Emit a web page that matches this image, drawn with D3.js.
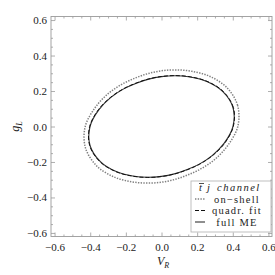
<!DOCTYPE html>
<html><head><meta charset="utf-8">
<script src="https://cdn.jsdelivr.net/npm/d3@7"></script>
<style>
html,body{margin:0;padding:0;background:#fff;}
svg text{font-family:"Liberation Serif","DejaVu Serif",serif;}
</style>
</head><body>
<svg id="chart" width="275" height="275"></svg>
<script>
// ---- data ----
const xMajorTicks = [-0.6, -0.4, -0.2, 0.0, 0.2, 0.4, 0.6];
const yMajorTicks = [-0.6, -0.4, -0.2, 0.0, 0.2, 0.4, 0.6];
const legendTitle = "channel";
const legendLabels = ["on\u2212shell", "quadr. fit", "full ME"];

// contour points [V_R, g_L]
const onShell = [
  [0.428,0.000],[0.427,0.119],[0.365,0.221],[0.270,0.283],[0.171,0.311],[0.082,0.319],
  [0.000,0.314],[-0.076,0.298],[-0.150,0.272],[-0.226,0.236],[-0.302,0.183],[-0.374,0.104],
  [-0.428,0.000],[-0.427,-0.119],[-0.365,-0.221],[-0.270,-0.283],[-0.171,-0.311],[-0.082,-0.319],
  [0.000,-0.314],[0.076,-0.298],[0.150,-0.272],[0.226,-0.236],[0.302,-0.183],[0.374,-0.104]
];
const quadrFit = [
  [0.403,0.000],[0.403,0.108],[0.345,0.199],[0.255,0.255],[0.162,0.280],[0.077,0.287],
  [0.000,0.282],[-0.072,0.268],[-0.142,0.245],[-0.213,0.213],[-0.285,0.165],[-0.354,0.095],
  [-0.403,0.000],[-0.403,-0.108],[-0.345,-0.199],[-0.255,-0.255],[-0.162,-0.280],[-0.077,-0.287],
  [0.000,-0.282],[0.072,-0.268],[0.142,-0.245],[0.213,-0.213],[0.285,-0.165],[0.354,-0.095]
];
const fullME = [
  [0.401,0.000],[0.401,0.107],[0.343,0.198],[0.254,0.254],[0.161,0.279],[0.077,0.286],
  [0.000,0.281],[-0.072,0.267],[-0.141,0.244],[-0.212,0.212],[-0.284,0.164],[-0.352,0.094],
  [-0.401,0.000],[-0.401,-0.107],[-0.343,-0.198],[-0.254,-0.254],[-0.161,-0.279],[-0.077,-0.286],
  [0.000,-0.281],[0.072,-0.267],[0.141,-0.244],[0.212,-0.212],[0.284,-0.164],[0.352,-0.094]
];

// ---- layout ----
const svg = d3.select("#chart");
const L = 51, R = 272, T = 16.5, B = 236.5;
const x = d3.scaleLinear().domain([-0.62, 0.62]).range([L, R]);
const y = d3.scaleLinear().domain([-0.62, 0.62]).range([B, T]);
const frameColor = "#9a9a9a";
const serif = '"Liberation Serif", "DejaVu Serif", serif';
const fmt = d3.format(".1f");
const minorTicks = d3.range(-12, 13).map(i => i * 0.05).filter(v => Math.abs(Math.round(v * 20) % 4) !== 0);

function styleAxis(g) {
  g.attr("font-family", serif);
  g.select(".domain").remove();
  g.selectAll(".tick line").attr("stroke", frameColor).attr("stroke-width", 0.8);
  g.selectAll(".tick text").attr("fill", "#222").attr("font-size", 11)
    .style("font-size", "11px").style("font-family", serif);
}

// major + minor ticks on all sides
const axes = [
  {gen: d3.axisBottom(x), tr: `translate(0,${B})`, vals: xMajorTicks, lab: true, pad: 6.5},
  {gen: d3.axisTop(x), tr: `translate(0,${T})`, vals: xMajorTicks, lab: false, pad: 3},
  {gen: d3.axisLeft(y), tr: `translate(${L},0)`, vals: yMajorTicks, lab: true, pad: 4},
  {gen: d3.axisRight(y), tr: `translate(${R},0)`, vals: yMajorTicks, lab: false, pad: 3}
];
axes.forEach(a => {
  svg.append("g").attr("transform", a.tr)
    .call(a.gen.tickValues(a.vals).tickSize(-4).tickSizeOuter(0)
      .tickPadding(a.pad).tickFormat(a.lab ? fmt : ""))
    .call(styleAxis);
});
const minorAxes = [
  [d3.axisBottom(x), `translate(0,${B})`],
  [d3.axisTop(x), `translate(0,${T})`],
  [d3.axisLeft(y), `translate(${L},0)`],
  [d3.axisRight(y), `translate(${R},0)`]
];
minorAxes.forEach(([gen, tr]) => {
  svg.append("g").attr("transform", tr)
    .call(gen.tickValues(minorTicks).tickSize(-2).tickSizeOuter(0).tickFormat(""))
    .call(styleAxis);
});

// frame
svg.append("rect").attr("x", L).attr("y", T).attr("width", R - L).attr("height", B - T)
  .attr("fill", "none").attr("stroke", frameColor).attr("stroke-width", 0.9);

// axis labels
svg.append("text").attr("x", 163).attr("y", 265).attr("text-anchor", "middle")
  .style("font-size", "12px").style("font-style", "italic").attr("fill", "#222")
  .call(t => { t.append("tspan").text("V"); t.append("tspan").attr("dy", 3).style("font-size", "8px").text("R"); });
svg.append("text").attr("transform", `translate(19,${y(0)}) rotate(-90)`).attr("text-anchor", "middle")
  .style("font-size", "12px").style("font-style", "italic").attr("fill", "#222")
  .call(t => { t.append("tspan").text("g"); t.append("tspan").attr("dy", 3).style("font-size", "8px").text("L"); });

// curves
const line = d3.line().x(d => x(d[0])).y(d => y(d[1])).curve(d3.curveCatmullRomClosed);
svg.append("path").attr("d", line(onShell)).attr("fill", "none")
  .attr("stroke", "#808080").attr("stroke-width", 1.5).attr("stroke-dasharray", "1.4,1.3");
svg.append("path").attr("d", line(fullME)).attr("fill", "none")
  .attr("stroke", "#333").attr("stroke-width", 1.1);
svg.append("path").attr("d", line(quadrFit)).attr("fill", "none")
  .attr("stroke", "#111").attr("stroke-width", 1).attr("stroke-dasharray", "4,2");

// legend
const lg = svg.append("g");
lg.append("rect").attr("x", 191).attr("y", 181).attr("width", 80).attr("height", 51)
  .attr("fill", "#fff").attr("stroke", "#b0b0b0").attr("stroke-width", 0.8);
const tt = lg.append("text").attr("y", 191).style("font-size", "10.5px").style("font-style", "italic").attr("fill", "#222");
tt.append("tspan").attr("x", 199).text("t");
tt.append("tspan").attr("x", 207).text("j");
tt.append("tspan").attr("x", 217).style("letter-spacing", "1.5px").text(legendTitle);
lg.append("line").attr("x1", 199).attr("x2", 204).attr("y1", 183.5).attr("y2", 183.5).attr("stroke", "#222").attr("stroke-width", 0.8);

const styles = [
  {stroke: "#808080", dash: "1.4,1.3", w: 1.5},
  {stroke: "#111", dash: "4,2", w: 1},
  {stroke: "#333", dash: null, w: 1.1}
];
const rowY = [202.5, 214, 225.5];
legendLabels.forEach((lab, i) => {
  lg.append("line").attr("x1", 195).attr("x2", 205).attr("y1", rowY[i] - 3.5).attr("y2", rowY[i] - 3.5)
    .attr("stroke", styles[i].stroke).attr("stroke-width", styles[i].w)
    .attr("stroke-dasharray", styles[i].dash);
  lg.append("text").attr("x", 237).attr("y", rowY[i]).attr("text-anchor", "middle")
    .style("font-size", "10.5px").style("letter-spacing", "1.2px").attr("fill", "#222").text(lab);
});
</script>
</body></html>
